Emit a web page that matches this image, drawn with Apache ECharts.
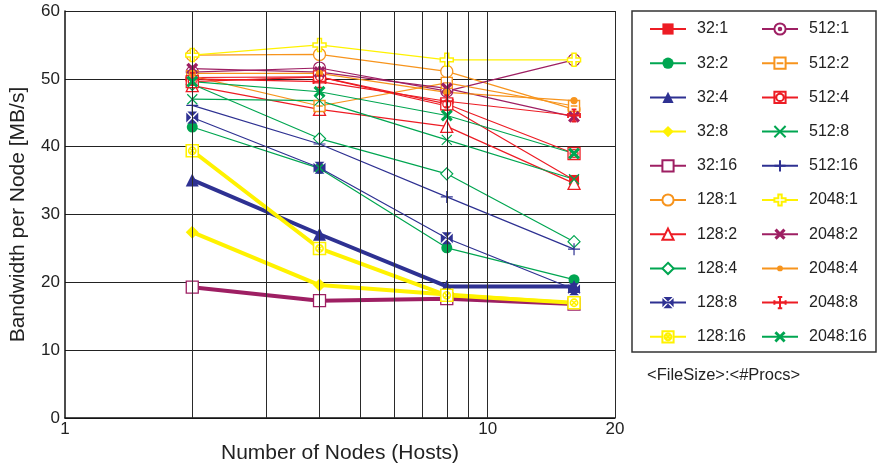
<!DOCTYPE html>
<html><head><meta charset="utf-8">
<script src="https://cdn.jsdelivr.net/npm/echarts@6/dist/echarts.min.js"></script>
<style>html,body{margin:0;padding:0;background:#fff}#c{width:877px;height:469px}</style>
</head><body><div id="c"></div>
<script>
// ---- data ----
const nodes = [2, 4, 8, 16];
const xTickLabels = [1, 10, 20];
const xGridValues = [2, 3, 4, 5, 6, 7, 8, 9, 10, 20];
const yTicks = [0, 10, 20, 30, 40, 50, 60];

const s32_1   = [50.2, 50.3, 46.0, 35.1];
const s32_2   = [42.9, 36.8, 25.1, 20.4];
const s32_4   = [35.1, 27.1, 19.4, 19.4];
const s32_8   = [27.4, 19.6, 18.2, 16.9];
const s32_16  = [19.3, 17.3, 17.6, 16.8];
const s128_1  = [53.5, 53.6, 51.1, 45.5];
const s128_2  = [49.0, 45.5, 43.0, 34.6];
const s128_4  = [49.2, 41.2, 36.0, 26.0];
const s128_8  = [44.3, 36.9, 26.5, 19.0];
const s128_16 = [39.4, 25.0, 18.1, 17.0];
const s512_1  = [51.0, 51.6, 48.2, 52.8];
const s512_2  = [50.4, 46.0, 49.4, 46.0];
const s512_4  = [49.6, 50.3, 46.3, 39.0];
const s512_8  = [47.0, 46.8, 41.0, 35.2];
const s512_16 = [46.1, 40.4, 32.6, 24.9];
const s2048_1 = [53.5, 55.0, 52.8, 52.8];
const s2048_2 = [51.5, 51.0, 48.6, 44.4];
const s2048_4 = [50.8, 50.8, 48.0, 46.8];
const s2048_8 = [50.0, 49.6, 46.7, 44.6];
const s2048_16= [49.6, 48.1, 44.6, 39.0];

const seriesNames = ['32:1','32:2','32:4','32:8','32:16','128:1','128:2','128:4','128:8','128:16',
                     '512:1','512:2','512:4','512:8','512:16','2048:1','2048:2','2048:4','2048:8','2048:16'];
const seriesValues = [s32_1,s32_2,s32_4,s32_8,s32_16,s128_1,s128_2,s128_4,s128_8,s128_16,
                      s512_1,s512_2,s512_4,s512_8,s512_16,s2048_1,s2048_2,s2048_4,s2048_8,s2048_16];

// ---- styles ----
const RED = '#ed1c24', GREEN = '#00a651', BLUE = '#2e3192', YELLOW = '#fff200', MAROON = '#9e1f63', ORANGE = '#f7941d';
const P = {
  xbox: 'path://M0.9,0L9.1,0L5,4.1Z M10,0.9L10,9.1L5.9,5Z M0.9,10L9.1,10L5,5.9Z M0,0.9L0,9.1L4.1,5Z',
  sqCircX: 'path://M0,0H10V10H0Z M8,5A3,3 0 1 1 2,5A3,3 0 1 1 8,5Z M2.9,2.9L7.1,7.1M7.1,2.9L2.9,7.1',
  circDot: 'path://M10,5A5,5 0 1 1 0,5A5,5 0 1 1 10,5Z M6.1,5A1.1,1.1 0 1 1 3.9,5A1.1,1.1 0 1 1 6.1,5Z',
  sqMinus: 'path://M0,0H10V10H0Z M2,5H8',
  sqCirc: 'path://M0,0H10V10H0Z M8.3,5A3.3,3.3 0 1 1 1.7,5A3.3,3.3 0 1 1 8.3,5Z',
  cross: 'path://M0,0L10,10M10,0L0,10',
  plus: 'path://M5,0V10M0,5H10',
  hollowPlus: 'path://M3.5,0H6.5V3.5H10V6.5H6.5V10H3.5V6.5H0V3.5H3.5Z',
  boldX: 'path://M0,2L2,0L5,3L8,0L10,2L7,5L10,8L8,10L5,7L2,10L0,8L3,5Z',
  dot: 'path://M0,0L0,0M10,10L10,10M7.6,5A2.6,2.6 0 1 1 2.4,5A2.6,2.6 0 1 1 7.6,5Z',
  barPlus: 'path://M5,0V10M0,5H10M3,0H7M3,10H7M0,3V7M10,3V7',
  asterisk: 'path://M0,1.8L1.8,0L5,3.2L8.2,0L10,1.8L6.8,5L10,8.2L8.2,10L5,6.8L1.8,10L0,8.2L3.2,5Z'
};
// [color, symbol, size, fill, borderWidth, lineWidth]
const styles = [
  [RED, 'rect', 10, RED, 0, 1.2],
  [GREEN, 'circle', 11, GREEN, 0, 1.2],
  [BLUE, 'triangle', 13, BLUE, 0, 4],
  [YELLOW, 'diamond', 13, YELLOW, 0, 4],
  [MAROON, 'rect', 12, '#fff', 1.3, 4],
  [ORANGE, 'circle', 12, '#fff', 1.3, 1.2],
  [RED, 'triangle', 12, '#fff', 1.3, 1.2],
  [GREEN, 'diamond', 12, '#fff', 1.2, 1.2],
  [BLUE, P.xbox, 12, BLUE, 0, 1.2],
  [YELLOW, P.sqCircX, 12, '#fff', 1.6, 4],
  [MAROON, P.circDot, 12, '#fff', 1.2, 1.2],
  [ORANGE, P.sqMinus, 11, '#fff', 1.4, 1.2],
  [RED, P.sqCirc, 12, '#fff', 1.3, 1.2],
  [GREEN, P.cross, 10, GREEN, 1.2, 1.2],
  [BLUE, P.plus, 12, BLUE, 1.2, 1.2],
  [YELLOW, P.hollowPlus, 13, '#fff', 1.5, 1.2],
  [MAROON, P.boldX, 12, MAROON, 0, 1.2],
  [ORANGE, P.dot, 14, ORANGE, 0, 1.2],
  [RED, P.barPlus, 12, RED, 1.8, 1.2],
  [GREEN, P.asterisk, 12, GREEN, 0, 1.2]
];

const series = seriesNames.map((name, i) => {
  const [c, sym, size, fill, bw, lw] = styles[i];
  return {
    name, type: 'line', symbol: sym, symbolSize: size, showSymbol: true,
    data: nodes.map((x, j) => [x, seriesValues[i][j]]),
    lineStyle: { color: c, width: lw },
    itemStyle: { color: fill, borderColor: c, borderWidth: bw },
    emphasis: { disabled: true }, z: 3
  };
});
series.unshift({
  name: '_grid', type: 'line', data: [], silent: true, z: 1,
  markLine: {
    silent: true, symbol: 'none', animation: false,
    label: { show: false },
    lineStyle: { color: '#2a2a2a', width: 1, type: 'solid' },
    data: xGridValues.map(v => ({ xAxis: v }))
  }
});

const legendCommon = {
  orient: 'vertical', top: 16, itemWidth: 36, itemHeight: 14, itemGap: 18.2,
  textStyle: { fontSize: 16, color: '#222', fontFamily: 'Liberation Sans, Arial, sans-serif', padding: [0, 0, 0, 6] },
  selectedMode: false
};

const chart = echarts.init(document.getElementById('c'), null, { renderer: 'canvas' });
chart.setOption({
  animation: false,
  backgroundColor: '#fff',
  textStyle: { fontFamily: 'Liberation Sans, Arial, sans-serif' },
  grid: { left: 65, right: 262, top: 11, bottom: 47, containLabel: false },
  legend: [
    Object.assign({ left: 644, data: seriesNames.slice(0, 10) }, legendCommon),
    Object.assign({ left: 756, data: seriesNames.slice(10) }, legendCommon)
  ],
  xAxis: {
    type: 'log', logBase: 10, min: 1, max: 20,
    name: 'Number of Nodes (Hosts)', nameLocation: 'middle', nameGap: 22,
    nameTextStyle: { fontSize: 21, color: '#222' },
    axisLine: { show: true, lineStyle: { color: '#111', width: 1.5 } },
    axisTick: { show: false },
    splitLine: { show: false },
    minorTick: { show: false },
    axisLabel: { fontSize: 17, color: '#222', margin: 3, customValues: xTickLabels, showMinLabel: true, showMaxLabel: true }
  },
  yAxis: {
    type: 'value', min: 0, max: 60, interval: 10,
    name: 'Bandwidth per Node [MB/s]', nameLocation: 'middle', nameGap: 36,
    nameTextStyle: { fontSize: 21, color: '#222' },
    axisLine: { show: true, lineStyle: { color: '#111', width: 1.5 } },
    axisTick: { show: false },
    splitLine: { show: true, lineStyle: { color: '#222', width: 1 } },
    axisLabel: { fontSize: 17, color: '#222', margin: 5 }
  },
  graphic: [
    { type: 'rect', shape: { x: 632, y: 11, width: 244, height: 341 }, style: { fill: 'none', stroke: '#333', lineWidth: 1.5 }, z: 0 },
    { type: 'text', left: 647, top: 367, style: { text: '<FileSize>:<#Procs>', fontSize: 16.5, fill: '#222', fontFamily: 'Liberation Sans, Arial, sans-serif' } }
  ],
  series
});
</script>
</body></html>
